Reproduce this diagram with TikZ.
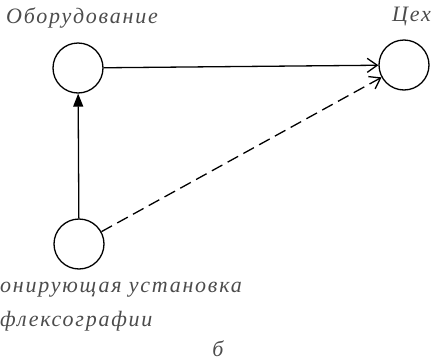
\documentclass[tikz,border=0pt]{standalone}
\usepackage{fontspec}
\setmainfont{Liberation Serif}
\newfontfamily\lbl[LetterSpace=8]{Liberation Serif}
\usetikzlibrary{arrows.meta}
\begin{document}
\begin{tikzpicture}[x=1pt,y=-1pt,
  unit/.style={circle,draw,line width=1.3pt,minimum size=50pt,inner sep=0pt},
  lab/.style={inner sep=0pt,font=\lbl\itshape\fontsize{22}{26}\selectfont,text=black!70},
  conn/.style={line width=1.3pt},
  barb/.style={-{Straight Barb[length=10pt,width=14pt,line width=1.3pt]}},
  tri/.style={-{Triangle[length=13pt,width=10pt]}}]
\useasboundingbox (0,0) rectangle (432,362);
\node[unit] (eq) at (78,68) {};
\node[unit] (ws) at (404,65) {};
\node[unit] (ex) at (79,244) {};
\node[lab,anchor=base west] (teq) at (6,23) {Оборудование};
\node[lab,anchor=base west] (tws) at (392,21) {Цех};
\node[lab,anchor=base west] (tex1) at (0,292) {онирующая установка};
\node[lab,anchor=base west] (tex2) at (0,326) {флексографии};
\node[lab,anchor=base] (tb) at (218,356) {б};
\draw[conn,barb] (eq) -- (ws);
\draw[conn,tri] (ex) -- (eq);
\draw[conn,barb,dashed,dash pattern=on 12pt off 6pt] (ex) -- (ws);
\end{tikzpicture}
\end{document}
